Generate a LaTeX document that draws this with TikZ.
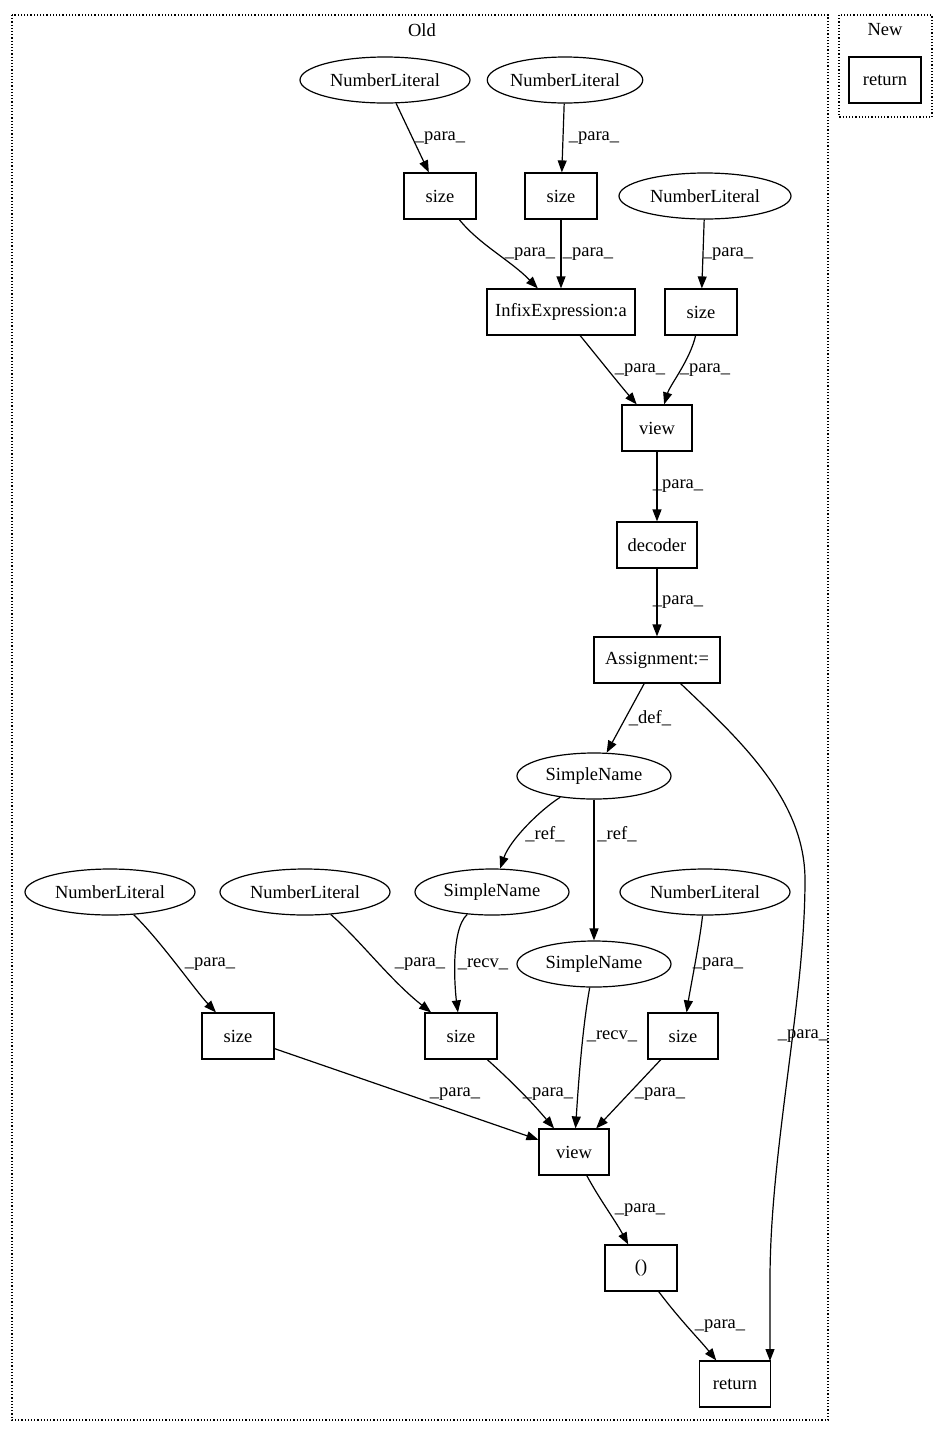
\documentclass[tikz,border=0pt]{standalone}
\usepackage{fontspec}
\setmainfont{Liberation Serif}
\usetikzlibrary{shapes.geometric,arrows.meta}
\begin{document}
\begin{tikzpicture}[x=1pt,y=-1pt,
  every node/.style={font=\fontsize{18.5}{20}\selectfont},
  box/.style={draw,line width=1.2pt,rectangle,minimum height=46pt,inner sep=0pt},
  ell/.style={draw,line width=1.2pt,ellipse,minimum height=46pt,inner sep=0pt},
  lbl/.style={inner sep=1pt},
  edge/.style={draw,line width=1.2pt,-{Triangle[length=12pt,width=9pt]}},
  cluster/.style={draw,line width=1.2pt,dotted}]
\useasboundingbox (0,0) rectangle (948,1436);
\draw[cluster] (12,15) rectangle (828,1420);
\node at (422,30) {Old};
\draw[cluster] (839,15) rectangle (932,117);
\node at (885,30) {New};
\node[box,minimum width=72pt] (newret) at (885,80) {return};

\node[ell,minimum width=170pt] (nl1) at (385,80) {NumberLiteral};
\node[ell,minimum width=138pt] (nl2) at (565,80) {NumberLiteral};
\node[box,minimum width=72pt] (s1) at (440,196) {size};
\node[box,minimum width=72pt] (s2) at (561,196) {size};
\node[ell,minimum width=172pt] (nl3) at (705,196) {NumberLiteral};
\node[box,minimum width=148pt] (inf) at (561,312) {InfixExpression:a};
\node[box,minimum width=72pt] (s3) at (701,312) {size};
\node[box,minimum width=70pt] (v1) at (657,428) {view};
\node[box,minimum width=80pt] (dec) at (657,545) {decoder};
\node[box,minimum width=126pt] (asg) at (657,660) {Assignment:=};
\node[ell,minimum width=154pt] (sn1) at (594,776) {SimpleName};
\node[ell,minimum width=170pt] (nl4) at (110,892) {NumberLiteral};
\node[ell,minimum width=170pt] (nl5) at (305,892) {NumberLiteral};
\node[ell,minimum width=154pt] (sn2) at (492,892) {SimpleName};
\node[ell,minimum width=170pt] (nl6) at (705,892) {NumberLiteral};
\node[ell,minimum width=154pt] (sn3) at (594,964) {SimpleName};
\node[box,minimum width=72pt] (s4) at (238,1036) {size};
\node[box,minimum width=72pt] (s5) at (461,1036) {size};
\node[box,minimum width=70pt] (s6) at (683,1036) {size};
\node[box,minimum width=70pt] (v2) at (574,1152) {view};
\node[box,minimum width=72pt] (par) at (641,1268) {()};
\node[box,minimum width=71pt] (ret) at (735,1384) {return};

\path[edge] (nl1) -- (s1) node[lbl,at={(440,138)}] {\_para\_};
\path[edge] (nl2) -- (s2) node[lbl,at={(594,138)}] {\_para\_};
\path[edge] (s1) .. controls (480,245) and (510,260) .. (inf) node[lbl,at={(530,254)}] {\_para\_};
\path[edge] (s2) -- (inf) node[lbl,at={(588,254)}] {\_para\_};
\path[edge] (nl3) -- (s3) node[lbl,at={(728,254)}] {\_para\_};
\path[edge] (inf) .. controls (600,360) and (620,385) .. (v1) node[lbl,at={(640,370)}] {\_para\_};
\path[edge] (s3) .. controls (690,360) and (670,385) .. (v1) node[lbl,at={(705,370)}] {\_para\_};
\path[edge] (v1) -- (dec) node[lbl,at={(678,486)}] {\_para\_};
\path[edge] (dec) -- (asg) node[lbl,at={(678,602)}] {\_para\_};
\path[edge] (asg) -- (sn1) node[lbl,at={(650,718)}] {\_def\_};
\path[edge] (asg.south east) ++(-40,0) .. controls (740,740) and (805,800) .. (805,880)
   .. controls (805,1000) and (770,1150) .. (770,1280) -- (770,1361)
   node[lbl,at={(803,1036)}] {\_para\_};
\path[edge] (sn1) .. controls (540,810) and (510,840) .. (sn2) node[lbl,at={(545,834)}] {\_ref\_};
\path[edge] (sn1) -- (sn3) node[lbl,at={(617,834)}] {\_ref\_};
\path[edge] (nl4) .. controls (160,940) and (195,990) .. (s4) node[lbl,at={(210,964)}] {\_para\_};
\path[edge] (nl5) .. controls (360,940) and (390,980) .. (s5) node[lbl,at={(420,964)}] {\_para\_};
\path[edge] (sn2) .. controls (450,930) and (455,990) .. (s5) node[lbl,at={(483,964)}] {\_recv\_};
\path[edge] (nl6) .. controls (700,940) and (690,990) .. (s6) node[lbl,at={(718,964)}] {\_para\_};
\path[edge] (s4) -- (v2) node[lbl,at={(455,1094)}] {\_para\_};
\path[edge] (s5) .. controls (510,1080) and (530,1100) .. (v2) node[lbl,at={(548,1094)}] {\_para\_};
\path[edge] (sn3) .. controls (582,1030) and (578,1090) .. (v2) node[lbl,at={(612,1036)}] {\_recv\_};
\path[edge] (s6) -- (v2) node[lbl,at={(660,1094)}] {\_para\_};
\path[edge] (v2) .. controls (600,1200) and (615,1220) .. (par) node[lbl,at={(640,1210)}] {\_para\_};
\path[edge] (par) .. controls (680,1320) and (700,1340) .. (ret) node[lbl,at={(720,1326)}] {\_para\_};
\end{tikzpicture}
\end{document}
